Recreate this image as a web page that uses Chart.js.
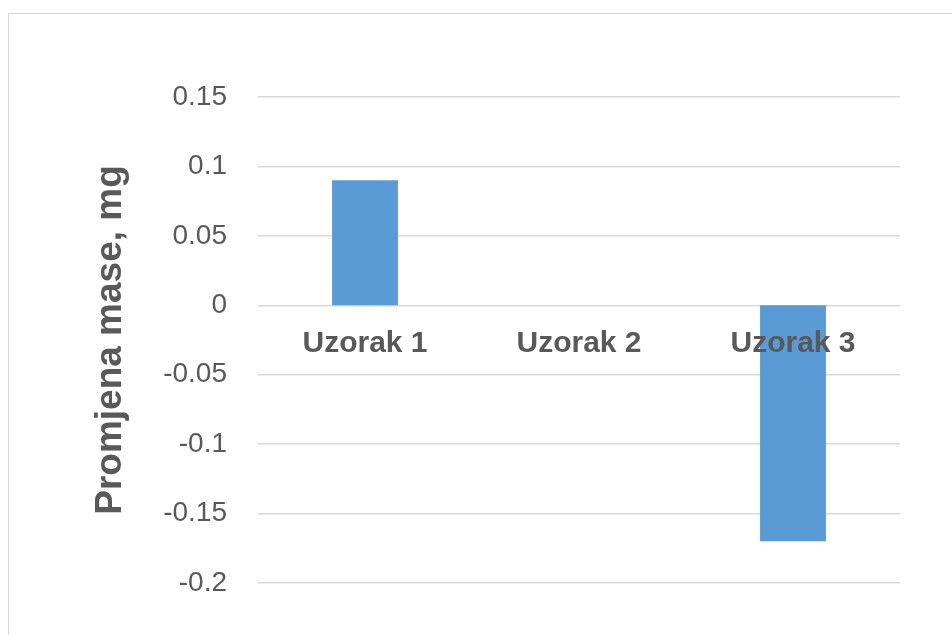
<!DOCTYPE html>
<html>
<head>
<meta charset="utf-8">
<script src="https://cdn.jsdelivr.net/npm/chart.js@4.4.1/dist/chart.umd.min.js"></script>
<style>
  html, body { margin: 0; padding: 0; background: #ffffff; overflow: hidden; }
  #wrap { position: relative; width: 952px; height: 635px; overflow: hidden; background: #ffffff; }
  #frame { position: absolute; left: 8px; top: 13px; width: 1100px; height: 1100px; border: 1px solid #D9D9D9; box-sizing: border-box; }
  #c { position: absolute; left: 0; top: 0; }
</style>
</head>
<body>
<div id="wrap">
  <div id="frame"></div>
  <canvas id="c" width="952" height="635"></canvas>
</div>
<script>
const categories = ['Uzorak 1', 'Uzorak 2', 'Uzorak 3'];
const values = [0.09, 0, -0.17];
const yTickLabels = ['-0.2', '-0.15', '-0.1', '-0.05', '0', '0.05', '0.1', '0.15'];
const yAxisTitle = 'Promjena mase, mg';

const textColor = '#595959';
const gridColor = '#D9D9D9';
const barColor = '#5B9BD5';

new Chart(document.getElementById('c'), {
  type: 'bar',
  data: {
    labels: categories,
    datasets: [{
      data: values,
      backgroundColor: barColor,
      borderWidth: 0,
      barPercentage: 0.308,
      categoryPercentage: 1.0
    }]
  },
  options: {
    responsive: false,
    animation: false,
    devicePixelRatio: 1,
    layout: { padding: { left: 0, top: 97, right: 52, bottom: 52 } },
    plugins: {
      legend: { display: false },
      tooltip: { enabled: false }
    },
    scales: {
      x: {
        position: { y: 0 },
        grid: { display: false, drawTicks: false },
        border: { display: false },
        ticks: {
          z: 1,
          color: textColor,
          padding: 20,
          font: { family: '"Liberation Sans", Arial, sans-serif', size: 30, weight: 'bold' }
        }
      },
      y: {
        min: -0.2,
        max: 0.15,
        afterFit: (scale) => { scale.width = 258; },
        grid: { color: gridColor, lineWidth: 1.5, drawTicks: false },
        border: { display: false },
        ticks: {
          stepSize: 0.05,
          color: textColor,
          padding: 31,
          font: { family: '"Liberation Sans", Arial, sans-serif', size: 28 },
          callback: (v, i, ticks) => (ticks.length === yTickLabels.length ? yTickLabels[i] : String(Math.round(v * 100) / 100))
        },
        title: {
          display: true,
          text: yAxisTitle,
          color: textColor,
          padding: { top: 89, bottom: 0 },
          font: { family: '"Liberation Sans", Arial, sans-serif', size: 37, weight: 'bold' }
        }
      }
    }
  }
});
</script>
</body>
</html>
